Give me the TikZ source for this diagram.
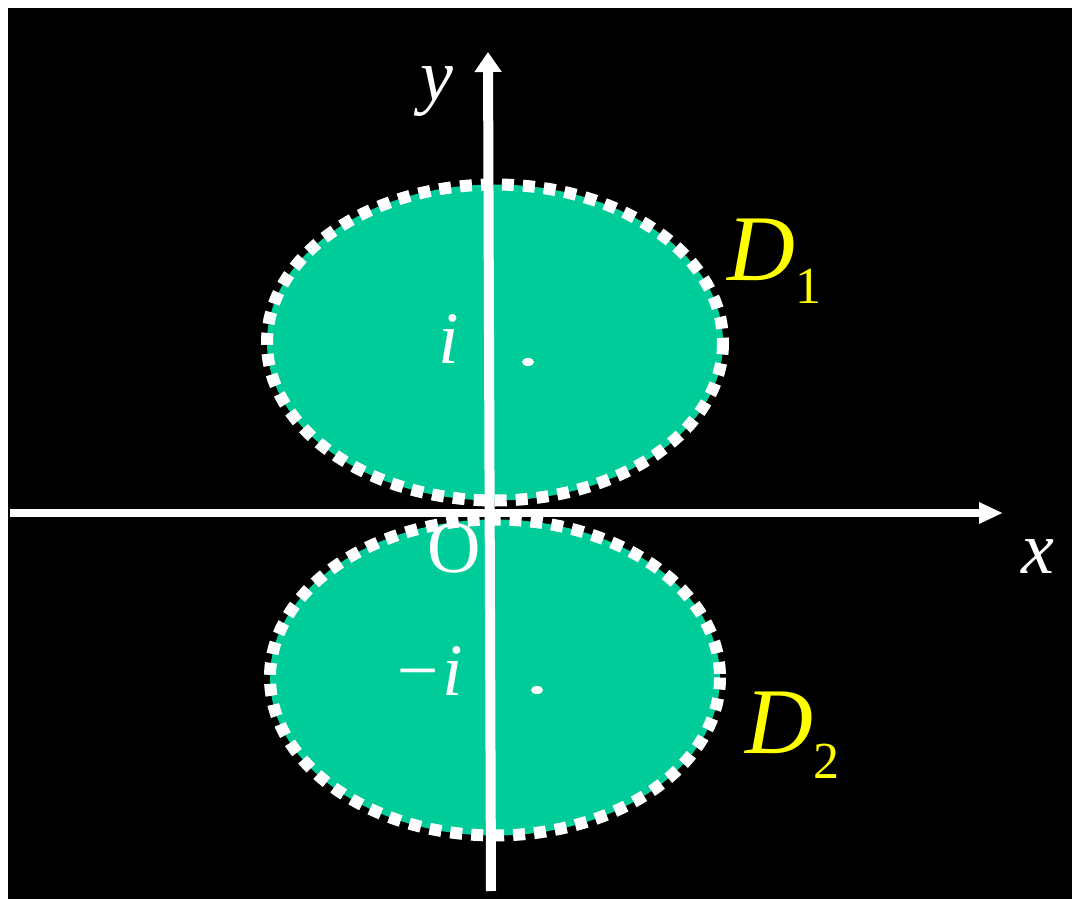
\documentclass[tikz,border=0pt]{standalone}
\usepackage{fontspec}
\setmainfont{Liberation Serif}
\usetikzlibrary{arrows.meta}
\definecolor{teal}{RGB}{0,204,153}
\definecolor{lbl}{RGB}{255,255,0}
\tikzset{
  disk/.style={fill=teal, draw=white, line width=6pt, dash pattern=on 6pt off 4.5pt},
  axis/.style={draw=white, line width=4.5pt},
  wlabel/.style={text=white, inner sep=0pt, anchor=base, font=\fontsize{37}{40}\selectfont\itshape},
  dlabel/.style={text=lbl, inner sep=0pt, anchor=base west, font=\fontsize{47}{50}\selectfont\itshape},
  ptdot/.style={fill=white, draw=none}
}
\begin{document}
\begin{tikzpicture}[x=0.5pt,y=-0.5pt]
\useasboundingbox (0,0) rectangle (1072,899);
\fill[white] (0,0) rectangle (1072,899);
\fill[black] (8,8) rectangle (1080,910);
% disks
\path[disk] (495,342.5) ellipse [x radius=228, y radius=158];
\path[disk] (495,677.5) ellipse [x radius=225, y radius=158];
% centre points
\fill[ptdot] (528,362) ellipse [x radius=6, y radius=4];
\fill[ptdot] (537,690) ellipse [x radius=6, y radius=4];
% axes
\coordinate (xs) at (10,513);
\coordinate (xe) at (1003,513);
\coordinate (ys) at (491,891);
\coordinate (ye) at (488,52);
\draw[axis, line width=4pt, -{Triangle[length=12pt,width=10pt]}] (xs) -- (xe);
\draw[axis, line width=5pt, -{Triangle[length=10pt,width=13pt]}] (ys) -- (ye);
% labels
\node[wlabel] (ly) at (437,101) {y};
\node[wlabel] (lx) at (1038,573) {x};
\node[wlabel, font=\fontsize{37}{40}\selectfont] (lo) at (454,572) {O};
\node[wlabel] (li) at (449,363) {i};
\node[wlabel] (lmi) at (428,695) {−i};
\node[dlabel] (d1) at (727,280) {D\raisebox{-11.5pt}{\fontsize{26}{28}\selectfont\upshape 1}};
\node[dlabel] (d2) at (745,753) {D\raisebox{-12.5pt}{\fontsize{26}{28}\selectfont\upshape 2}};
\end{tikzpicture}
\end{document}
